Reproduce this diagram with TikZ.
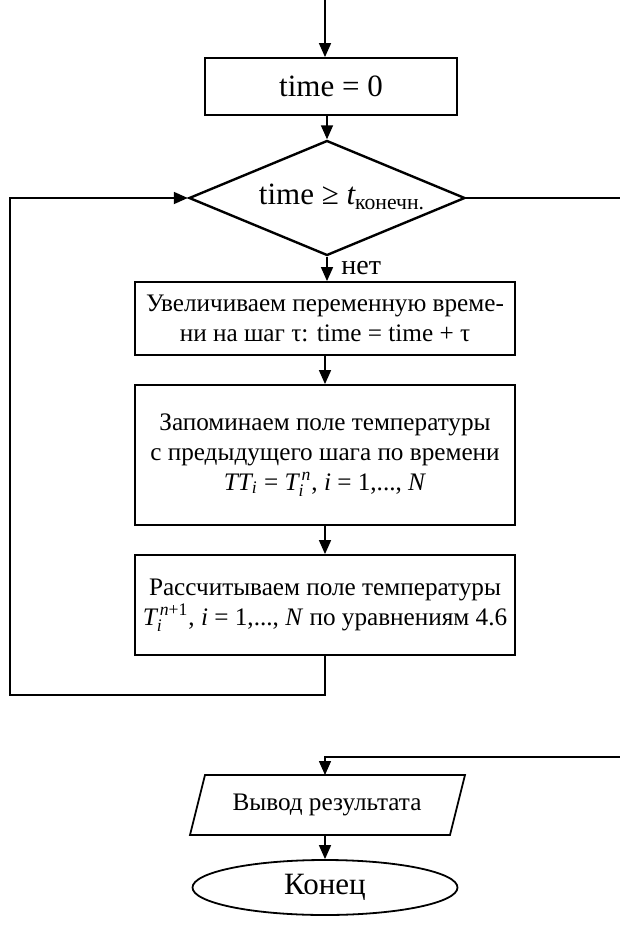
\documentclass[tikz,border=0pt]{standalone}
\usepackage{fontspec}
\usepackage{amsmath}
\setmainfont{Liberation Serif}
\usetikzlibrary{shapes.geometric,arrows.meta}
\newcommand\vi[1]{\text{\itshape #1}}
\begin{document}
\begin{tikzpicture}[x=0.5pt,y=-0.5pt,
  big/.style={font=\fontsize{15.5}{18}\selectfont},
  small/.style={font=\fontsize{12.6}{15}\selectfont},
  blk/.style={draw, line width=0.9pt, inner sep=0pt, align=center, minimum width=190pt, small},
  conn/.style={line width=0.75pt, -{Triangle[length=7pt,width=6pt]}},
  plain/.style={line width=0.9pt}]
\path[fill=white] (0,0) rectangle (620,937);
\useasboundingbox (0,0) rectangle (620,937);

\coordinate (start) at (325,0);
\node[blk, big, minimum width=126pt, minimum height=28.5pt] (init) at (331,86.5) {time = 0};
\node[draw, diamond, line width=1.2pt, minimum width=138pt, minimum height=57.5pt, inner sep=0pt] (cond) at (327,198) {};
\node[big] (condtext) at (342,197) {time ≥ $\vi{t}_{\text{конечн.}}$};
\node[anchor=west, inner sep=0pt, font=\fontsize{14}{16}\selectfont] (no) at (341,268) {нет};
\node[blk, minimum height=36.5pt] (inc) at (325,318.5) {Увеличиваем переменную време-\\ни на шаг τ: time = time + τ};
\node[blk, minimum height=70pt] (save) at (325,455) {Запоминаем поле температуры\\с предыдущего шага по времени\\$\vi{TT}_{\vi{i}}$ = $\vi{T}_{\vi{i}}^{\,\vi{n}}$, \textit{i} = 1,..., \textit{N}};
\node[blk, minimum height=50pt] (calc) at (325,605) {Рассчитываем поле температуры\\$\vi{T}_{\vi{i}}^{\,\vi{n}\text{+1}}$, \textit{i} = 1,..., \textit{N} по уравнениям 4.6};

% parallelogram
\coordinate (ptl) at (205,775);
\coordinate (ptr) at (465,775);
\coordinate (pbr) at (450,835);
\coordinate (pbl) at (190,835);
\draw[line width=0.9pt] (ptl) -- (ptr) -- (pbr) -- (pbl) -- cycle;
\node[small] (out) at (327,805) {Вывод результата};
\coordinate (outtop) at (325,775);
\coordinate (outbot) at (325,835);
\node[draw, ellipse, big, line width=0.9pt, minimum width=132.5pt, minimum height=27.5pt, inner sep=0pt] (end) at (325,887.5) {Конец};

% connectors
\draw[conn] (start) -- (start |- init.north);
\draw[conn] (cond.north |- init.south) -- (cond.north);
\draw[conn] (cond.south) -- (cond.south |- inc.north);
\draw[conn] (inc.south) -- (save.north);
\draw[conn] (save.south) -- (calc.north);
\coordinate (lb) at (10,695);
\draw[plain, -{Triangle[length=7pt,width=6pt]}] (calc.south) |- (lb) |- (cond.west);
\coordinate (re) at (620,198);
\draw[plain] (cond.east) -- (re);
\coordinate (rb) at (620,757);
\draw[conn] (rb) -| (outtop);
\draw[conn] (outbot) -- (end.north);
\end{tikzpicture}
\end{document}
